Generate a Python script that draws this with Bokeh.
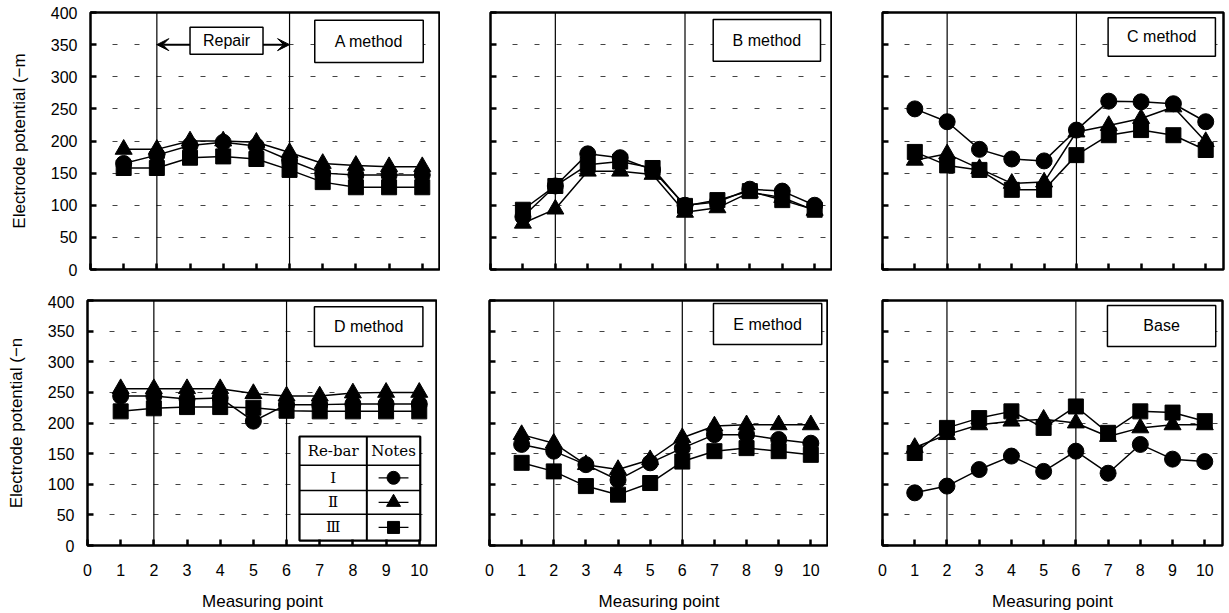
from bokeh.plotting import figure
from bokeh.layouts import column, row
from bokeh.models import Span, Arrow, VeeHead, FixedTicker
from bokeh.core.properties import value
from bokeh.embed import file_html
from bokeh.resources import INLINE

# ---------------- data ----------------
points = [1, 2, 3, 4, 5, 6, 7, 8, 9, 10]
x_ticks = [0, 1, 2, 3, 4, 5, 6, 7, 8, 9, 10]
y_ticks = [0, 50, 100, 150, 200, 250, 300, 350, 400]
repair_start = 2
repair_end = 6
rebar_names = ["Ⅰ", "Ⅱ", "Ⅲ"]

a_I = [165, 178, 193, 198, 192, 170, 150, 147, 147, 147]
a_II = [187, 187, 200, 200, 198, 182, 165, 162, 160, 160]
a_III = [158, 158, 174, 176, 172, 155, 136, 128, 128, 128]

b_I = [82, 130, 180, 174, 155, 100, 105, 125, 122, 100]
b_II = [72, 94, 153, 153, 148, 89, 96, 120, 112, 92]
b_III = [93, 130, 163, 168, 158, 99, 108, 122, 108, 93]

c_I = [250, 230, 187, 172, 169, 217, 262, 261, 258, 230]
c_II = [170, 180, 157, 134, 136, 214, 224, 235, 253, 199]
c_III = [183, 162, 155, 124, 124, 178, 209, 217, 209, 186]

d_I = [244, 244, 239, 241, 203, 230, 230, 231, 231, 231]
d_II = [256, 256, 256, 256, 248, 244, 244, 249, 250, 250]
d_III = [219, 224, 226, 226, 225, 220, 219, 219, 219, 219]

e_I = [165, 154, 132, 107, 135, 159, 181, 181, 173, 167]
e_II = [181, 167, 132, 124, 140, 176, 195, 197, 197, 197]
e_III = [135, 121, 97, 83, 102, 137, 154, 159, 154, 148]

base_I = [86, 97, 124, 146, 121, 154, 118, 165, 141, 137]
base_II = [160, 181, 197, 203, 206, 200, 178, 192, 197, 197]
base_III = [151, 192, 208, 219, 192, 227, 184, 219, 217, 203]

titles = ["A method", "B method", "C method", "D method", "E method", "Base"]
series = [(a_I, a_II, a_III), (b_I, b_II, b_III), (c_I, c_II, c_III),
          (d_I, d_II, d_III), (e_I, e_II, e_III), (base_I, base_II, base_III)]

FONT = "Liberation Sans"
SERIF = "DejaVu Serif"
markers = ["circle", "triangle", "square"]
msizes = [16, 17, 15]

# panel geometry (left border, frame width, right border)
geo_top = [(90, 350, 0), (50, 342, 0), (50, 341, 6)]
geo_bot = [(87, 350, 0), (52, 339, 0), (54, 340, 7)]
title_boxes = [(6.76, 10.03, 322, 388), (6.87, 10.18, 324, 389), (6.98, 10.3, 332, 392),
               (6.84, 10.11, 325, 390), (6.97, 10.34, 328, 395), (6.98, 10.34, 325, 392)]


def make_panel(idx, top_row, left_col, geo):
    bl, fw, br = geo
    if top_row:
        fh, bt, bb = 257, 12, 26
    else:
        fh, bt, bb = 245, 5, 66
    p = figure(frame_width=fw, frame_height=fh, x_range=(0, 10.55), y_range=(0, 400),
               output_backend="svg", toolbar_location=None, title=None,
               min_border_left=bl, min_border_right=br, min_border_top=bt,
               min_border_bottom=bb)
    p.background_fill_color = "white"
    p.border_fill_color = "white"
    p.outline_line_color = "black"
    p.outline_line_width = 2.5

    p.xgrid.visible = False
    p.ygrid.ticker = FixedTicker(ticks=y_ticks[1:-1])
    p.ygrid.grid_line_color = "#444444"
    p.ygrid.grid_line_dash = "5 17"
    p.ygrid.grid_line_width = 1

    for ax, ticks in ((p.xaxis[0], x_ticks), (p.yaxis[0], y_ticks)):
        ax.ticker = FixedTicker(ticks=ticks)
        ax.axis_line_color = None
        ax.major_tick_in = 6
        ax.major_tick_out = 0
        ax.major_tick_line_width = 2.5
        ax.major_tick_line_color = "black"
        ax.minor_tick_line_color = None
        ax.major_label_text_font = FONT
        ax.major_label_text_font_size = "16px"
        ax.major_label_text_color = "black"
        ax.axis_label_text_font = FONT
        ax.axis_label_text_font_size = "17px"
        ax.axis_label_text_font_style = "normal"
        ax.axis_label_text_color = "black"

    p.yaxis.major_label_standoff = 13
    p.xaxis.major_label_standoff = 18
    if left_col:
        p.yaxis.axis_label = "Electrode potential (−m" if top_row else "Electrode potential (−n"
        p.yaxis.axis_label_standoff = 19
    else:
        p.yaxis.major_label_overrides = {t: "" for t in y_ticks}
    if top_row:
        p.xaxis.major_label_overrides = {t: "" for t in x_ticks}
    else:
        p.xaxis.axis_label = "Measuring point"
        p.xaxis.axis_label_standoff = 13

    for loc in (repair_start, repair_end):
        p.add_layout(Span(location=loc, dimension="height", line_color="black",
                          line_width=1.2, level="underlay"))

    for k in range(3):
        ys = series[idx][k]
        p.line(points, ys, line_color="black", line_width=1.5)
    for k in range(3):
        ys = series[idx][k]
        p.scatter(points, ys, marker=markers[k], size=msizes[k],
                  fill_color="black", line_color="black")

    # title box
    x0, x1, y0, y1 = title_boxes[idx]
    p.quad(left=[x0], right=[x1], bottom=[y0], top=[y1], fill_color="white",
           line_color="black", line_width=1.5)
    p.text(x=[(x0 + x1) / 2], y=[(y0 + y1) / 2], text=[titles[idx]],
           text_align="center", text_baseline="middle",
           text_font=value(FONT), text_font_size="16px", text_color="black")

    if idx == 0:
        p.add_layout(Arrow(start=VeeHead(size=12, fill_color="black", line_color="black"),
                           end=VeeHead(size=12, fill_color="black", line_color="black"),
                           x_start=repair_start, x_end=repair_end, y_start=350, y_end=350,
                           line_color="black", line_width=2, level="underlay"))
        p.quad(left=[3.0], right=[5.2], bottom=[335], top=[377], fill_color="white",
               line_color="black", line_width=1.5)
        p.text(x=[4.1], y=[356], text=["Repair"], text_align="center",
               text_baseline="middle", text_font=value(FONT), text_font_size="16px",
               text_color="black")

    if idx == 3:
        # legend table
        tl, tm, tr = 6.39, 8.42, 10.03
        rows_y = [178, 131, 90, 51, 8]
        p.quad(left=[tl], right=[tr], bottom=[rows_y[-1]], top=[rows_y[0]],
               fill_color="white", line_color="black", line_width=2.2)
        p.segment(x0=[tm], x1=[tm], y0=[rows_y[-1]], y1=[rows_y[0]],
                  line_color="black", line_width=2)
        p.segment(x0=[tl] * 3, x1=[tr] * 3, y0=rows_y[1:4], y1=rows_y[1:4],
                  line_color="black", line_width=1.5)
        cx1 = (tl + tm) / 2
        cx2 = (tm + tr) / 2
        hy = (rows_y[0] + rows_y[1]) / 2
        p.text(x=[cx1, cx2], y=[hy, hy], text=["Re-bar", "Notes"], text_align="center",
               text_baseline="middle", text_font=value(SERIF), text_font_size="15px",
               text_color="black")
        for k in range(3):
            cy = (rows_y[k + 1] + rows_y[k + 2]) / 2
            p.text(x=[cx1], y=[cy], text=[rebar_names[k]], text_align="center",
                   text_baseline="middle", text_font=value(SERIF), text_font_size="15px",
                   text_color="black")
            p.segment(x0=[cx2 - 0.45], x1=[cx2 + 0.45], y0=[cy], y1=[cy],
                      line_color="black", line_width=1.2)
            p.scatter([cx2], [cy], marker=markers[k], size=msizes[k] - 3,
                      fill_color="black", line_color="black")
    return p


top = [make_panel(i, True, i == 0, geo_top[i]) for i in range(3)]
bot = [make_panel(i + 3, False, i == 0, geo_bot[i]) for i in range(3)]
layout = column(row(*top, spacing=0), row(*bot, spacing=0), spacing=0)

open("out.html", "w").write(file_html(layout, INLINE))
